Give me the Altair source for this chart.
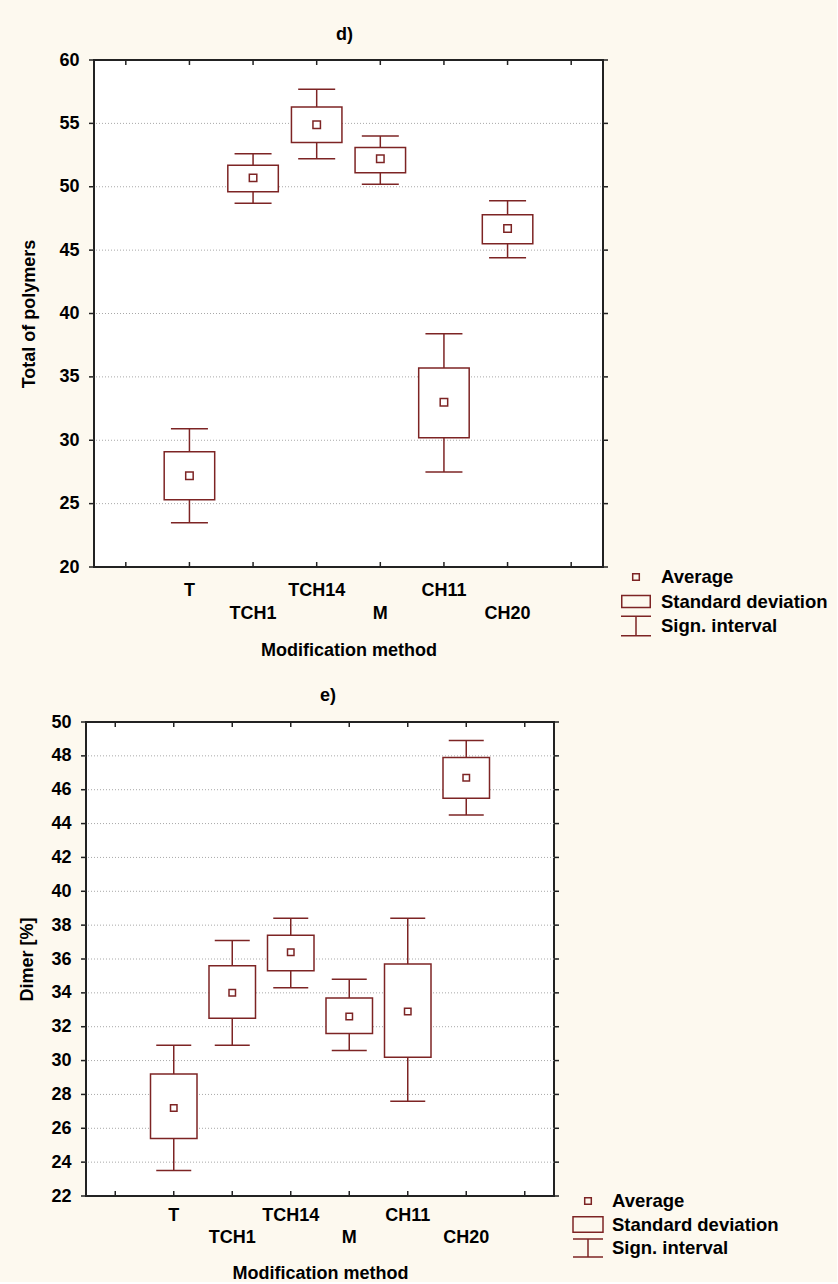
import altair as alt
import pandas as pd

# ---------------- data ----------------
CATEGORIES = ["T", "TCH1", "TCH14", "M", "CH11", "CH20"]
CAT_POS = [1, 2, 3, 4, 5, 6]
LABEL_ROW = [0, 1, 0, 1, 0, 1]
SLOT_TICKS = [0, 1, 2, 3, 4, 5, 6, 7]
X_DOMAIN = [-0.5, 7.5]
X_TITLE = "Modification method"

D_TITLE = "d)"
D_YTITLE = "Total of polymers"
D_YDOMAIN = [20, 60]
D_YTICKS = [20, 25, 30, 35, 40, 45, 50, 55, 60]
D_MEAN = [27.2, 50.7, 54.9, 52.2, 33.0, 46.7]
D_SD_LO = [25.3, 49.6, 53.5, 51.1, 30.2, 45.5]
D_SD_HI = [29.1, 51.7, 56.3, 53.1, 35.7, 47.8]
D_CI_LO = [23.5, 48.7, 52.2, 50.2, 27.5, 44.4]
D_CI_HI = [30.9, 52.6, 57.7, 54.0, 38.4, 48.9]

E_TITLE = "e)"
E_YTITLE = "Dimer [%]"
E_YDOMAIN = [22, 50]
E_YTICKS = [22, 24, 26, 28, 30, 32, 34, 36, 38, 40, 42, 44, 46, 48, 50]
E_MEAN = [27.2, 34.0, 36.4, 32.6, 32.9, 46.7]
E_SD_LO = [25.4, 32.5, 35.3, 31.6, 30.2, 45.5]
E_SD_HI = [29.2, 35.6, 37.4, 33.7, 35.7, 47.9]
E_CI_LO = [23.5, 30.9, 34.3, 30.6, 27.6, 44.5]
E_CI_HI = [30.9, 37.1, 38.4, 34.8, 38.4, 48.9]

LEGEND_LABELS = ["Average", "\u00a0Standard deviation", "Sign. interval"]

# ---------------- style ----------------
FONT = "Liberation Sans"
RED = "#7d2424"
GRID = "#a8a8a8"
FRAME = "#222222"
CREAM = "#fdf9ef"


def panel(title, ytitle, ydomain, yticks, mean, sd_lo, sd_hi, ci_lo, ci_hi, st):
    S, PW, H = st["shift"], st["W"], st["H"]
    W = S + PW  # group width; the plot frame starts S px inside it
    df = pd.DataFrame({
        "cat": CATEGORIES, "pos": CAT_POS, "row": LABEL_ROW,
        "mean": mean, "sd_lo": sd_lo, "sd_hi": sd_hi, "ci_lo": ci_lo, "ci_hi": ci_hi,
    })
    ytick_df = pd.DataFrame({"v": yticks})
    grid_df = pd.DataFrame({"v": yticks[1:-1]})
    xtick_df = pd.DataFrame({"p": SLOT_TICKS})
    frame_df = pd.DataFrame({"x0": [X_DOMAIN[0]], "x1": [X_DOMAIN[1]],
                             "y0": [ydomain[0]], "y1": [ydomain[1]]})
    leg_df = pd.DataFrame({"item": LEGEND_LABELS})

    xs = alt.Scale(domain=X_DOMAIN, range=[S, W], nice=False, zero=False)
    ys = alt.Scale(domain=ydomain, nice=False, zero=False)

    yaxis = alt.Axis(
        values=yticks, grid=False, ticks=False, tickSize=0, domain=False, offset=-S,
        labelFont=FONT, labelFontSize=18, labelFontWeight="bold", labelColor="black",
        labelPadding=st["lab_pad"], title=ytitle, titleFont=FONT, titleFontSize=18,
        titleFontWeight="bold", titleColor="black", titlePadding=st["ytitle_pad"],
    )
    xaxis = alt.Axis(
        values=SLOT_TICKS, labels=False, ticks=False, tickSize=0, domain=False, grid=False,
        title=X_TITLE, titleFont=FONT, titleFontSize=18, titleFontWeight="bold",
        titleColor="black", titlePadding=st["xtitle_pad"],
    )

    X = lambda f: alt.X(f, scale=xs, axis=xaxis)
    Y = lambda f: alt.Y(f, scale=ys, axis=yaxis)

    frame = alt.Chart(frame_df).mark_rect(fill="white", stroke=FRAME, strokeWidth=2).encode(
        x=X("x0:Q"), x2="x1:Q", y=Y("y0:Q"), y2="y1:Q",
    )
    grid = alt.Chart(grid_df).mark_rule(color=GRID, strokeWidth=1, strokeDash=[1, 2]).encode(
        y=Y("v:Q"), x=alt.value(S + 1), x2=alt.value(W - 1),
    )
    base = alt.Chart(df)
    whisk = base.mark_rule(color=RED, strokeWidth=1.5).encode(
        x=X("pos:Q"), y=Y("ci_lo:Q"), y2="ci_hi:Q",
    )
    cap_hi = base.mark_tick(orient="horizontal", size=st["cap"], thickness=1.5, color=RED, opacity=1).encode(
        x=X("pos:Q"), y=Y("ci_hi:Q"),
    )
    cap_lo = base.mark_tick(orient="horizontal", size=st["cap"], thickness=1.5, color=RED, opacity=1).encode(
        x=X("pos:Q"), y=Y("ci_lo:Q"),
    )
    box = base.mark_bar(size=st["box"], fill="white", stroke=RED, strokeWidth=1.5).encode(
        x=X("pos:Q"), y=Y("sd_lo:Q"), y2="sd_hi:Q",
    )
    avg = base.mark_square(size=st["sq"], filled=True, fill="white", stroke=RED, strokeWidth=1.5, opacity=1).encode(
        x=X("pos:Q"), y=Y("mean:Q"),
    )
    yt_left = alt.Chart(ytick_df).mark_rule(color=FRAME, strokeWidth=1.5).encode(
        y=Y("v:Q"), x=alt.value(S), x2=alt.value(S + 5))
    yt_right = alt.Chart(ytick_df).mark_rule(color=FRAME, strokeWidth=1.5).encode(
        y=Y("v:Q"), x=alt.value(W - 5), x2=alt.value(W))
    xt_bot = alt.Chart(xtick_df).mark_rule(color=FRAME, strokeWidth=1.5).encode(
        x=X("p:Q"), y=alt.value(H - 5), y2=alt.value(H))
    xt_top = alt.Chart(xtick_df).mark_rule(color=FRAME, strokeWidth=1.5).encode(
        x=X("p:Q"), y=alt.value(0), y2=alt.value(5))

    lab0 = base.transform_filter(alt.datum.row == 0).mark_text(
        font=FONT, fontSize=18, fontWeight="bold", color="black", baseline="middle", align="center"
    ).encode(x=X("pos:Q"), y=alt.value(H + st["row0"]), text="cat:N")
    lab1 = base.transform_filter(alt.datum.row == 1).mark_text(
        font=FONT, fontSize=18, fontWeight="bold", color="black", baseline="middle", align="center"
    ).encode(x=X("pos:Q"), y=alt.value(H + st["row1"]), text="cat:N")

    legend = alt.Chart(leg_df).mark_point(
        filled=False, color=RED, strokeWidth=1.5, size=900, clip=True
    ).encode(
        x=alt.value(-200), y=alt.value(-200),
        shape=alt.Shape(
            "item:N",
            scale=alt.Scale(domain=LEGEND_LABELS, range=st["paths"]),
            legend=alt.Legend(
                orient="none", legendX=S + st["legX"], legendY=st["legY"], title=None,
                direction="vertical", padding=0, offset=0,
                labelFont=FONT, labelFontSize=18.5, labelFontWeight="bold", labelColor="black",
                labelLimit=400, labelOffset=st["labOff"],
                symbolSize=900, symbolStrokeWidth=1.5, symbolStrokeColor=RED,
                symbolFillColor="transparent", symbolOpacity=1,
                clipHeight=22, rowPadding=st["rowPad"],
            ),
        ),
    )

    return alt.layer(
        frame, grid, whisk, cap_hi, cap_lo, box, avg, yt_left, yt_right, xt_bot, xt_top,
        lab0, lab1, legend
    ).properties(
        width=W, height=H,
        title=alt.TitleParams(title, font=FONT, fontSize=18, fontWeight="bold", color="black",
                              anchor="middle", frame="group", offset=st["toff"], dx=st["tdx"]),
    )


AVG_PATH = "M-0.22,-0.22H0.22V0.22H-0.22Z"

top = panel(D_TITLE, D_YTITLE, D_YDOMAIN, D_YTICKS, D_MEAN, D_SD_LO, D_SD_HI, D_CI_LO, D_CI_HI, {
    "shift": 8, "W": 519, "H": 507, "lab_pad": 10, "ytitle_pad": 20, "xtitle_pad": 74,
    "cap": 37, "box": 50.5, "sq": 56, "row0": 24, "row1": 47, "toff": 7, "tdx": 0,
    "legX": 531, "legY": 506, "labOff": 9, "rowPad": 2.5,
    "paths": [AVG_PATH, "M-0.95,-0.4H0.95V0.4H-0.95Z", "M-1,-0.65H1M0,-0.65V0.65M-1,0.65H1"],
})

bottom = panel(E_TITLE, E_YTITLE, E_YDOMAIN, E_YTICKS, E_MEAN, E_SD_LO, E_SD_HI, E_CI_LO, E_CI_HI, {
    "shift": 0, "W": 478, "H": 474, "lab_pad": 10, "ytitle_pad": 14, "xtitle_pad": 68,
    "cap": 35, "box": 46.5, "sq": 42, "row0": 20, "row1": 42, "toff": 8, "tdx": 8,
    "legX": 491, "legY": 468, "labOff": 8, "rowPad": 1.5,
    "paths": [AVG_PATH, "M-1,-0.52H1V0.52H-1Z", "M-1,-0.6H1M0,-0.6V0.6M-1,0.6H1"],
})

chart = alt.concat(top, bottom, columns=1, spacing=28).resolve_scale(
    shape="independent"
).resolve_legend(
    shape="independent"
).configure(
    background=CREAM,
    padding={"left": 18, "top": 26, "right": 9, "bottom": 0},
).configure_view(fill="transparent", stroke="transparent", strokeWidth=0)

chart.save("out.html", embed_options={"renderer": "svg", "actions": False})
